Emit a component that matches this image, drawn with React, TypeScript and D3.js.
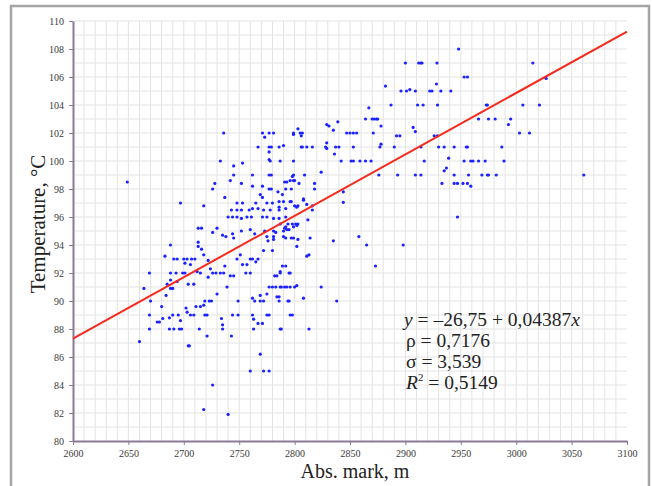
import React, { useRef, useEffect } from "react";
import * as d3 from "d3";

// axis ticks
const xTicks = [2600, 2650, 2700, 2750, 2800, 2850, 2900, 2950, 3000, 3050, 3100];
const yTicks = [80, 82, 84, 86, 88, 90, 92, 94, 96, 98, 100, 102, 104, 106, 108, 110];

// regression y = a + b*x
const intercept = -26.75;
const slope = 0.04387;

// [abs. mark, temperature]
const lowGroup: [number, number][] = [
  [2649, 98.5], [2660, 87.1], [2664, 90.9], [2669, 92.0], [2669, 89.0], [2669, 88.0], [2670, 90.0],
  [2676, 88.5], [2678, 88.5], [2680, 89.6], [2681, 88.75], [2683, 93.2], [2684, 90.4],
  [2685, 91.2], [2688, 91.5], [2688, 90.9], [2688, 94.0], [2688, 92.0], [2687, 88.8], [2687, 88.0],
  [2690, 89.0], [2690, 90.9], [2691, 93.0], [2691, 88.0], [2693, 92.0], [2694, 93.0], [2694, 91.4],
  [2695, 89.0], [2696, 88.0], [2697, 88.6], [2697, 97.0], [2698, 88.0], [2699, 92.0], [2700, 93.0],
  [2701, 92.0], [2701, 92.7], [2702, 89.5], [2703, 93.0], [2703, 89.2], [2704, 91.2], [2704, 86.8],
  [2705, 86.8], [2706, 92.6], [2706, 89.0], [2707, 93.0], [2709, 91.2], [2709, 89.0], [2710, 93.0],
  [2711, 89.6], [2712, 92.1], [2713, 95.2], [2713, 94.2], [2713, 93.9], [2714, 88.0], [2715, 92.0],
  [2715, 89.6], [2716, 95.2], [2716, 93.7], [2718, 96.8], [2718, 93.3], [2718, 89.7], [2718, 82.25],
  [2719, 90.0], [2719, 89.0], [2721, 89.0], [2721, 87.5], [2722, 92.9], [2722, 91.7], [2723, 90.0],
  [2724, 92.3], [2725, 90.0], [2726, 98.0], [2726, 94.9], [2726, 92.0], [2726, 84.0], [2728, 98.4],
  [2729, 92.0], [2730, 95.2], [2730, 90.5], [2733, 100.0], [2733, 92.0], [2734, 88.75], [2735, 94.7],
  [2735, 88.3], [2735, 88.0], [2736, 102.0], [2736, 92.0], [2737, 97.4], [2737, 92.5], [2738, 94.6],
  [2739, 91.0], [2740, 81.9], [2742, 98.6], [2742, 91.8],
];

const coreGroup: [number, number][] = [
  [2740, 96.0], [2743, 96.5], [2744, 96.0], [2748, 96.5], [2748, 96.0], [2752, 96.5], [2752, 95.9],
  [2757, 96.0], [2759, 96.5], [2761, 96.0], [2743, 87.5], [2744, 94.8], [2745, 94.5], [2745, 99.65],
  [2745, 99.0], [2745, 91.8], [2744, 89.0], [2749, 89.0], [2749, 90.0], [2748, 97.0], [2748, 93.0],
  [2751, 93.3], [2752, 98.4], [2752, 95.0], [2753, 99.85], [2753, 97.0], [2753, 92.6], [2756, 92.0],
  [2757, 92.6], [2760, 95.1], [2760, 93.0], [2760, 92.0], [2760, 85.0], [2762, 99.0], [2762, 98.2],
  [2762, 96.6], [2762, 93.0], [2762, 90.2], [2762, 89.0], [2763, 88.7], [2763, 88.0], [2764, 94.8],
  [2764, 90.0], [2765, 97.0], [2765, 92.8], [2767, 101.0], [2767, 96.6], [2767, 93.0], [2767, 88.4],
  [2769, 97.6], [2769, 90.0], [2769, 90.4], [2769, 86.2], [2771, 102.0], [2771, 98.2], [2771, 97.4],
  [2771, 96.0], [2771, 88.4], [2772, 96.5], [2772, 90.0], [2772, 85.0], [2772, 93.6], [2773, 95.0],
  [2773, 101.7], [2775, 97.0], [2775, 96.0], [2775, 94.6], [2775, 90.5], [2775, 89.0], [2776, 94.3],
  [2777, 102.0], [2777, 101.0], [2777, 100.65], [2777, 99.0], [2777, 98.0], [2777, 91.0], [2777, 89.0],
  [2777, 85.0], [2777, 100.1], [2778, 100.0], [2778, 96.5], [2779, 101.0], [2779, 99.0], [2779, 98.0],
  [2780, 97.0], [2780, 93.6], [2780, 91.0], [2781, 102.0], [2781, 95.0], [2781, 94.6], [2781, 94.4],
  [2781, 95.9], [2782, 91.8], [2784, 91.8], [2783, 91.0], [2783, 94.9], [2784, 90.3], [2785, 97.8],
  [2786, 101.0], [2786, 97.1], [2786, 96.7], [2786, 96.5], [2786, 95.9], [2786, 90.3], [2786, 90.0],
  [2787, 95.5], [2787, 92.1], [2787, 92.0], [2789, 97.6], [2787, 91.0], [2787, 88.0], [2787, 100.0],
  [2788, 91.0], [2788, 88.0], [2789, 92.5], [2790, 101.1], [2790, 97.1], [2790, 95.0], [2790, 94.6],
  [2791, 91.0], [2791, 98.5], [2791, 95.2], [2792, 98.0], [2792, 96.6], [2792, 96.0], [2792, 94.5],
  [2792, 92.5], [2792, 95.3], [2793, 95.1], [2793, 98.5], [2793, 91.0], [2794, 95.5], [2794, 90.0],
  [2795, 95.1], [2795, 92.0], [2795, 90.0], [2796, 98.6], [2796, 92.0], [2796, 91.0], [2796, 89.0],
  [2796, 97.1], [2797, 98.0], [2797, 97.1], [2797, 94.5], [2798, 98.9], [2798, 89.0], [2798, 95.5],
  [2799, 102.0], [2799, 100.0], [2799, 98.6], [2799, 95.3], [2799, 94.5], [2799, 101.9], [2799, 99.0],
  [2800, 98.6], [2800, 96.8], [2800, 91.0], [2801, 95.5], [2802, 95.4], [2802, 96.7], [2802, 91.1],
  [2802, 93.9], [2803, 94.4], [2803, 102.3], [2803, 96.8], [2803, 95.5], [2804, 98.4], [2805, 102.0],
  [2806, 101.8], [2806, 101.0], [2807, 102.0], [2807, 101.0], [2808, 97.2], [2808, 97.3], [2808, 90.2],
  [2809, 99.0], [2811, 101.0], [2811, 96.9], [2811, 93.2], [2812, 95.8], [2813, 93.3], [2813, 88.0],
  [2814, 94.5], [2816, 101.0], [2816, 96.5], [2816, 96.8], [2818, 98.4], [2818, 98.0], [2824, 99.2],
  [2824, 91.0],
];

const highGroup: [number, number][] = [
  [2828, 101.0], [2829, 101.3], [2829, 100.9], [2829, 102.6], [2831, 102.5], [2835, 102.2], [2835, 94.3],
  [2836, 100.5], [2837, 101.0], [2838, 90.0], [2839, 102.8], [2840, 101.0], [2842, 100.0], [2844, 97.8],
  [2844, 97.05], [2847, 102.0], [2850, 102.0], [2853, 102.0], [2856, 102.0], [2851, 100.0], [2853, 100.0],
  [2853, 101.0], [2858, 94.6], [2859, 100.0], [2864, 100.0], [2869, 100.0], [2864, 103.0], [2870, 103.0],
  [2872, 103.0], [2874, 103.0], [2875, 103.0], [2865, 94.0], [2867, 103.8], [2871, 102.0], [2873, 92.5],
  [2876, 99.0], [2877, 101.0], [2878, 101.2], [2878, 102.5], [2882, 105.35], [2887, 104.0], [2890, 101.0],
  [2892, 101.8], [2895, 101.8], [2893, 99.0], [2896, 105.0], [2898, 94.0], [2900, 107.0], [2901, 105.0],
  [2904, 105.1], [2907, 102.4], [2909, 102.1], [2909, 105.0], [2909, 99.0], [2911, 104.0], [2912, 107.0],
  [2914, 107.0], [2915, 107.0], [2914, 101.0], [2914, 99.0], [2916, 104.0], [2917, 100.0], [2922, 105.0],
  [2924, 105.0], [2926, 101.8], [2928, 105.5], [2928.5, 107.0], [2929, 104.0], [2929, 101.8], [2930, 101.0],
  [2932, 105.0], [2933, 98.4], [2935, 101.0], [2935, 99.3], [2937, 99.5], [2939, 100.2], [2941, 105.0],
  [2944, 101.0], [2944, 99.0], [2944, 98.4], [2947, 98.4], [2947, 96.0], [2948, 108.0], [2952, 98.4],
  [2953, 106.0], [2953, 100.0], [2955, 101.0], [2956, 101.0], [2956, 106.0], [2956, 98.4], [2957, 99.0],
  [2959, 98.2], [2959, 100.0], [2961, 100.0], [2966, 103.0], [2966, 100.0], [2969, 99.0], [2972, 100.0],
  [2973, 104.0], [2974, 104.0], [2974, 99.0], [2975, 103.0], [2975, 99.0], [2981, 103.0], [2982, 99.0],
  [2987, 101.0], [2989, 100.0], [2993, 102.6], [2995, 103.0], [3003, 102.0], [3006, 104.0], [3012, 102.0],
  [3015, 107.0], [3021, 104.0], [3027, 105.9], [3061, 99.0],
];

const statLines = ["ρ = 0,7176", "σ = 3,539"];
const r2Value = "0,5149";

const App = () => {
  const svgRef = useRef(null);

  const width = 652;
  const height = 486;
  const margin = { top: 21, right: 25, bottom: 45, left: 73 };

  useEffect(() => {
    const svg = d3.select(svgRef.current);
    svg.selectAll("*").remove();

    const x = d3.scaleLinear().domain([2600, 3100]).range([margin.left, width - margin.right]);
    const y = d3.scaleLinear().domain([80, 110]).range([height - margin.bottom, margin.top]);

    // outer frame
    svg.append("rect")
      .attr("x", 11).attr("y", 6)
      .attr("width", 638).attr("height", 500)
      .attr("fill", "white")
      .attr("stroke", "#a5a5a5")
      .attr("stroke-width", 2.5);

    // grid
    const grid = svg.append("g");
    grid.selectAll("line.v")
      .data(d3.range(2610, 3100, 10))
      .enter().append("line")
      .attr("x1", d => x(d)).attr("x2", d => x(d))
      .attr("y1", y(80)).attr("y2", y(110))
      .attr("stroke", "#e3e3e3");
    grid.selectAll("line.h")
      .data(d3.range(81, 111, 1))
      .enter().append("line")
      .attr("x1", x(2600)).attr("x2", x(3100))
      .attr("y1", d => y(d)).attr("y2", d => y(d))
      .attr("stroke", "#e3e3e3");

    // axes
    const axisColor = "#8a7a97";
    const fmt = d3.format("d");
    const gx = svg.append("g")
      .attr("transform", `translate(0, ${y(80)})`)
      .call(d3.axisBottom(x).tickValues(xTicks).tickFormat(fmt).tickSize(4).tickSizeOuter(0).tickPadding(5));
    const gy = svg.append("g")
      .attr("transform", `translate(${x(2600)}, 0)`)
      .call(d3.axisLeft(y).tickValues(yTicks).tickFormat(fmt).tickSize(4).tickSizeOuter(0).tickPadding(5));
    [gx, gy].forEach(g => {
      g.select(".domain").attr("stroke", axisColor).attr("stroke-width", 2);
      g.selectAll(".tick line").attr("stroke", axisColor);
      g.selectAll("text")
        .attr("fill", "#3a3a3a")
        .style("font-family", "'Liberation Serif', 'Times New Roman', serif")
        .style("font-size", "10px");
    });

    // points
    const pts = [...lowGroup, ...coreGroup, ...highGroup];
    svg.append("g").selectAll("circle")
      .data(pts)
      .enter().append("circle")
      .attr("cx", d => x(d[0]))
      .attr("cy", d => y(d[1]))
      .attr("r", 1.6)
      .attr("fill", "#1a22ff");

    // regression line
    const line = d3.line<number>()
      .x(d => x(d))
      .y(d => y(intercept + slope * d));
    svg.append("path")
      .datum([2600, 3100])
      .attr("d", line)
      .attr("fill", "none")
      .attr("stroke", "#f52a1c")
      .attr("stroke-width", 2);

    // annotation
    const serif = "'Liberation Serif', 'Times New Roman', serif";
    const note = svg.append("g")
      .style("font-family", serif)
      .style("font-size", "19.5px")
      .attr("fill", "#222");
    const l1 = note.append("text").attr("x", 404).attr("y", 326);
    l1.append("tspan").attr("font-style", "italic").text("y");
    l1.append("tspan").text(" = –26,75 + 0,04387");
    l1.append("tspan").attr("font-style", "italic").text("x");
    statLines.forEach((s, i) => {
      note.append("text").attr("x", 406).attr("y", 347 + i * 21).text(s);
    });
    const l4 = note.append("text").attr("x", 406).attr("y", 389);
    l4.append("tspan").attr("font-style", "italic").text("R");
    l4.append("tspan").attr("font-size", "11px").attr("dy", -8).text("2");
    l4.append("tspan").attr("dy", 8).text(" = " + r2Value);

    // axis titles
    svg.append("text")
      .attr("x", 355).attr("y", 478)
      .attr("text-anchor", "middle")
      .style("font-family", serif)
      .style("font-size", "20px")
      .attr("fill", "#222")
      .text("Abs. mark, m");
    svg.append("text")
      .attr("transform", "translate(45, 224) rotate(-90)")
      .attr("text-anchor", "middle")
      .style("font-family", serif)
      .style("font-size", "21px")
      .attr("fill", "#222")
      .text("Temperature, °C");
  }, []);

  return (
    <div>
      <svg ref={svgRef} width={width} height={height}
        style={{ position: "absolute", left: 0, top: 0 }}>
      </svg>
    </div>
  );
};

export default App;
